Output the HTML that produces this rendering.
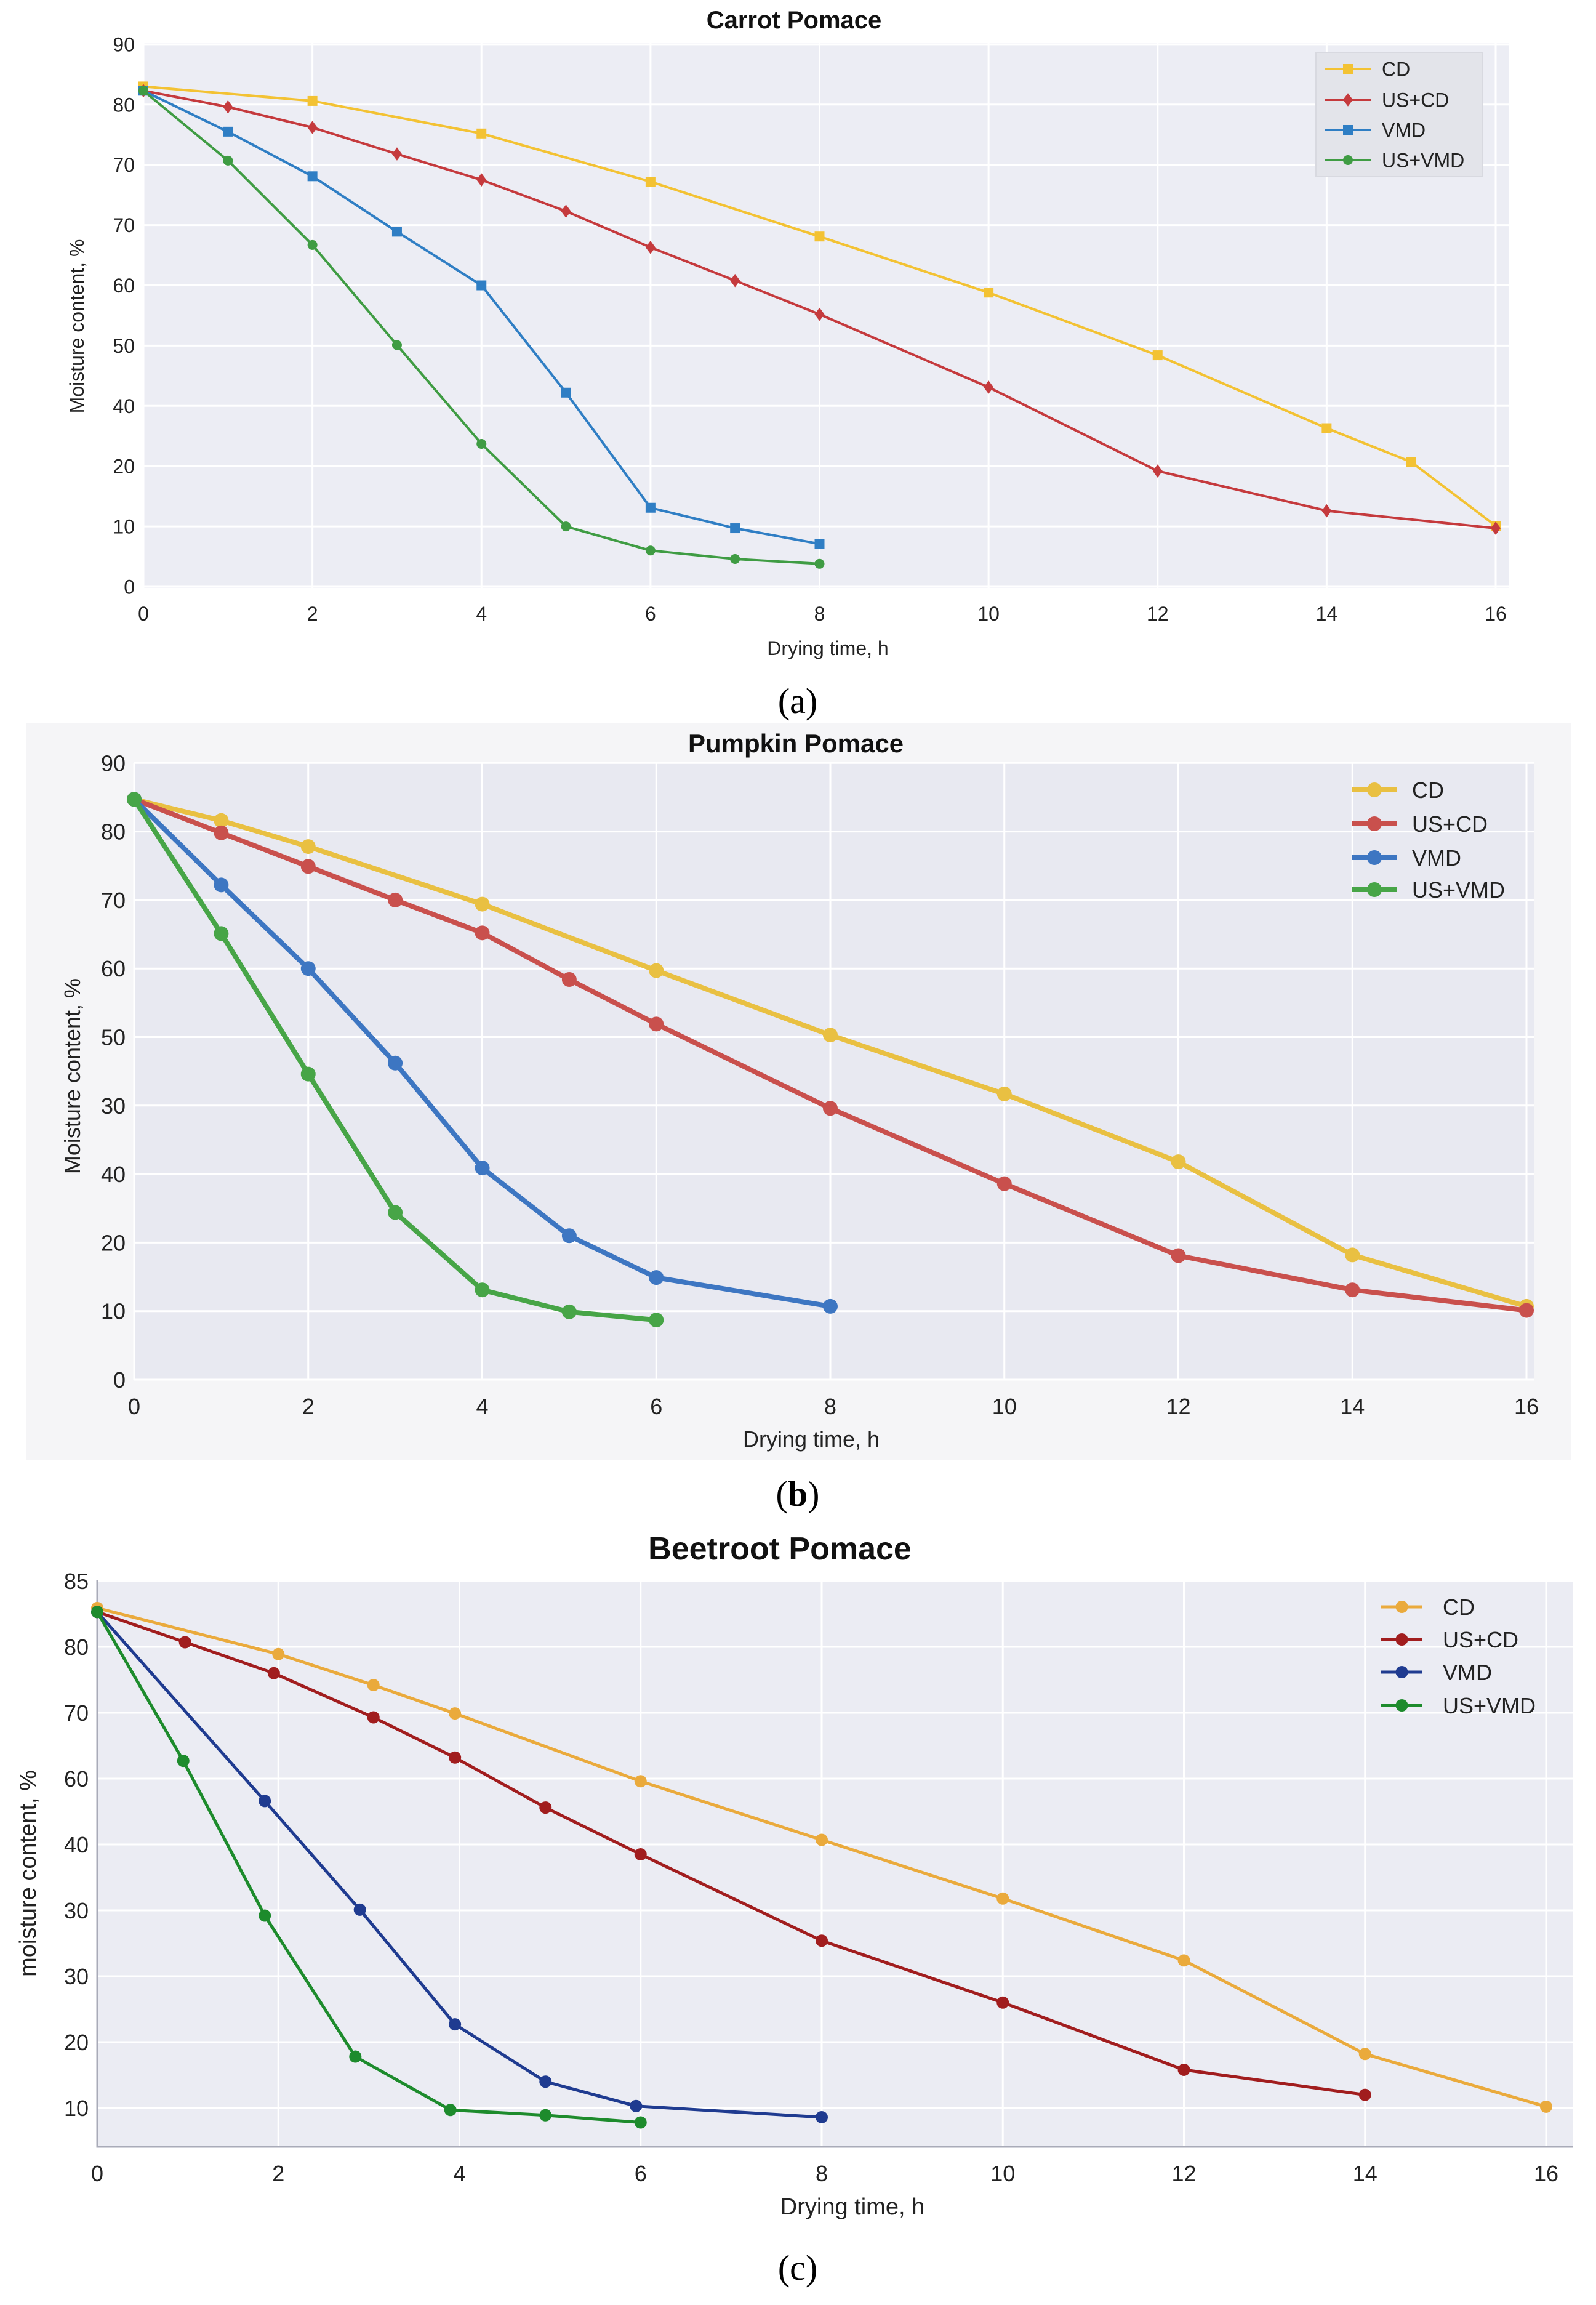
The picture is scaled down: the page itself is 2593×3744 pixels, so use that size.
<!DOCTYPE html>
<html><head><meta charset="utf-8">
<style>
html,body{margin:0;padding:0;background:#fff;}
svg{display:block;}
text{font-family:"Liberation Sans","DejaVu Sans",sans-serif;}
</style></head>
<body>
<svg id="fig" width="2593" height="3744" viewBox="0 0 2593 3744" xmlns="http://www.w3.org/2000/svg">
  <rect x="0" y="0" width="2593" height="3744" fill="#ffffff"/>
  <rect x="42" y="1175" width="2510" height="1196" fill="#f5f5f7"/>
  <g id="pa"></g>
  <g id="pb"></g>
  <g id="pc"></g>
  <text x="1296" y="1158" text-anchor="middle" style="font-family:'Liberation Serif',serif" font-size="58">(a)</text>
  <text x="1296" y="2446" text-anchor="middle" style="font-family:'Liberation Serif',serif" font-size="58">(<tspan font-weight="bold">b</tspan>)</text>
  <text x="1296" y="3703" text-anchor="middle" style="font-family:'Liberation Serif',serif" font-size="58">(c)</text>
</svg>
<script>
// ---------- Panel A: Carrot ----------
const aCD_x = [0,2,4,6,8,10,12,14,15,16];
const aCD_y = [83.0,80.6,75.2,67.2,58.1,48.8,38.4,26.3,20.7,10.1];
const aUSCD_x = [0,1,2,3,4,5,6,7,8,10,12,14,16];
const aUSCD_y = [82.3,79.6,76.2,71.8,67.5,62.3,56.3,50.8,45.2,33.1,19.2,12.6,9.7];
const aVMD_x = [0,1,2,3,4,5,6,7,8];
const aVMD_y = [82.3,75.5,68.1,58.9,50.0,32.2,13.1,9.7,7.1];
const aUSVMD_x = [0,1,2,3,4,5,6,7,8];
const aUSVMD_y = [82.3,70.7,56.7,40.1,23.7,10.0,6.0,4.6,3.8];
const aYTickVals = [0,10,20,30,40,50,60,70,80,90];
const aYTickLabels = ["0","10","20","40","50","60","70","70","80","90"];
const aXTicks = [0,2,4,6,8,10,12,14,16];

// ---------- Panel B: Pumpkin ----------
const bCD_x = [0,1,2,4,6,8,10,12,14,16];
const bCD_y = [84.7,81.6,77.8,69.4,59.7,50.3,41.7,31.8,18.2,10.7];
const bUSCD_x = [0,1,2,3,4,5,6,8,10,12,14,16];
const bUSCD_y = [84.7,79.8,74.9,70.0,65.2,58.4,51.9,39.6,28.6,18.1,13.1,10.1];
const bVMD_x = [0,1,2,3,4,5,6,8];
const bVMD_y = [84.7,72.2,60.0,46.2,30.9,21.0,14.9,10.7];
const bUSVMD_x = [0,1,2,3,4,5,6];
const bUSVMD_y = [84.7,65.1,44.6,24.4,13.1,9.9,8.7];
const bYTickVals = [0,10,20,30,40,50,60,70,80,90];
const bYTickLabels = ["0","10","20","40","30","50","60","70","80","90"];
const bXTicks = [0,2,4,6,8,10,12,14,16];

// ---------- Panel C: Beetroot ----------
const cCD_x = [0,2,3.05,3.95,6,8,10,12,14,16];
const cCD_y = [85.9,78.9,74.2,69.9,59.6,50.7,41.8,32.4,18.2,10.2];
const cUSCD_x = [0,0.97,1.95,3.05,3.95,4.95,6,8,10,12,14];
const cUSCD_y = [85.3,80.7,76.0,69.3,63.2,55.6,48.5,35.4,26.0,15.8,12.0];
const cVMD_x = [0,1.85,2.9,3.95,4.95,5.95,8];
const cVMD_y = [85.3,56.6,40.1,22.7,14.0,10.3,8.6];
const cUSVMD_x = [0,0.95,1.85,2.85,3.9,4.95,6];
const cUSVMD_y = [85.3,62.7,39.2,17.8,9.7,8.9,7.8];
const cYTickVals = [10,20,30,40,50,60,70,80,90];
const cYTickLabels = ["10","20","30","30","40","60","70","80","85"];
const cXTicks = [0,2,4,6,8,10,12,14,16];

const NS = "http://www.w3.org/2000/svg";
function mk(parent, tag, attrs){
  const e = document.createElementNS(NS, tag);
  for (const k in attrs) e.setAttribute(k, attrs[k]);
  parent.appendChild(e);
  return e;
}

function marker(g, shape, cx, cy, s, color){
  let m;
  if (shape === "square") {
    m = mk(g, "rect", {x:cx-s, y:cy-s, width:2*s, height:2*s, fill:color});
  } else if (shape === "diamond") {
    m = mk(g, "polygon", {points:`${cx},${cy-s*1.35} ${cx+s},${cy} ${cx},${cy+s*1.35} ${cx-s},${cy}`, fill:color});
  } else {
    m = mk(g, "circle", {cx:cx, cy:cy, r:s, fill:color});
  }
  return m;
}

function drawPanel(cfg){
  const g = document.getElementById(cfg.id);
  const X = t => cfg.x0 + (cfg.x1 - cfg.x0) * t / 16;
  const Y = v => cfg.yBase - (v - cfg.vBase) * cfg.yPer;
  const bg = mk(g, "rect", {x:cfg.px0, y:cfg.py0, width:cfg.px1-cfg.px0, height:cfg.py1-cfg.py0, fill:cfg.bg});
  
  
  cfg.yTicks.forEach((v,i)=>{
    const yy = Y(v);
    const gl = mk(g, "line", {x1:cfg.px0, x2:cfg.px1, y1:yy, y2:yy, stroke:"#ffffff", "stroke-width":3});
    
    
    const tl = mk(g, "text", {x:cfg.px0-14, y:yy+cfg.tickFs*0.36, "text-anchor":"end", "font-size":cfg.tickFs, fill:"#222"});
    tl.textContent = cfg.yLabels[i];
    
    
  });
  cfg.xTicks.forEach(t=>{
    const xx = X(t);
    const gl = mk(g, "line", {x1:xx, x2:xx, y1:cfg.py0, y2:cfg.py1, stroke:"#ffffff", "stroke-width":3});
    
    
    const tl = mk(g, "text", {x:xx, y:cfg.xTickY, "text-anchor":"middle", "font-size":cfg.tickFs, fill:"#222"});
    tl.textContent = String(t);
    
    
  });
  if (cfg.axisLine) {
    const ax = mk(g, "path", {d:`M${cfg.px0},${cfg.py0} V${cfg.py1} H${cfg.px1}`, fill:"none", stroke:"#a9abb8", "stroke-width":3});
    
    
  }
  cfg.series.forEach(s=>{
    const sg = mk(g, "g", {});
    
    
    const pts = s.xs.map((t,i)=>`${X(t).toFixed(1)},${Y(s.ys[i]).toFixed(1)}`).join(" ");
    const pl = mk(sg, "polyline", {points:pts, fill:"none", stroke:s.color, "stroke-width":cfg.lw, "stroke-linejoin":"round", "stroke-linecap":"round"});
    
    
    s.xs.forEach((t,i)=>{
      const m = marker(sg, s.shape, X(t), Y(s.ys[i]), cfg.ms, s.color);
      
      
    });
  });
  if (cfg.legendBox) {
    const lb = mk(g, "rect", {x:cfg.legendBox[0], y:cfg.legendBox[1], width:cfg.legendBox[2], height:cfg.legendBox[3], fill:"#e3e4ea", stroke:"#d8d9e0", "stroke-width":2});
    
    
  }
  cfg.series.forEach((s,i)=>{
    const ly = cfg.legY[i];
    const le = mk(g, "g", {});
    
    
    mk(le, "line", {x1:cfg.legX0, x2:cfg.legX1, y1:ly, y2:ly, stroke:s.color, "stroke-width":cfg.lw});
    marker(le, s.shape, (cfg.legX0+cfg.legX1)/2, ly, cfg.ms, s.color);
    const lt = mk(le, "text", {x:cfg.legTx, y:ly+cfg.legFs*0.36, "font-size":cfg.legFs, fill:"#222"});
    lt.textContent = s.label;
  });
  const tt = mk(g, "text", {x:cfg.titleX, y:cfg.titleY, "text-anchor":"middle", "font-size":cfg.titleFs, "font-weight":"bold", fill:"#111"});
  tt.textContent = cfg.title;
  
  
  const xt = mk(g, "text", {x:cfg.xTitleX, y:cfg.xTitleY, "text-anchor":"middle", "font-size":cfg.axFs, fill:"#222"});
  xt.textContent = "Drying time, h";
  
  
  const yt = mk(g, "text", {x:0, y:0, "text-anchor":"middle", "font-size":cfg.axFs, fill:"#222", transform:`translate(${cfg.yTitleX},${cfg.yTitleY}) rotate(-90)`});
  yt.textContent = cfg.yTitle;
  
  
}

drawPanel({
  id:"pa", title:"Carrot Pomace", titleX:1290, titleY:46, titleFs:40,
  x0:233, x1:2430, yBase:953, vBase:0, yPer:9.79,
  px0:233, px1:2452, py0:70, py1:955, bg:"#ecedf4", axisLine:false,
  yTicks:aYTickVals, yLabels:aYTickLabels, xTicks:aXTicks, xTickY:1008, tickFs:32,
  xTitleX:1345, xTitleY:1064, yTitleX:136, yTitleY:530, axFs:32, yTitle:"Moisture content, %",
  lw:4, ms:8,
  legendBox:[2138,85,270,202], legX0:2152, legX1:2228, legTx:2245, legY:[112,162,211,260], legFs:32,
  series:[
    {key:"cd", label:"CD", xs:aCD_x, ys:aCD_y, color:"#f3c233", shape:"square"},
    {key:"us-cd", label:"US+CD", xs:aUSCD_x, ys:aUSCD_y, color:"#c53a3d", shape:"diamond"},
    {key:"vmd", label:"VMD", xs:aVMD_x, ys:aVMD_y, color:"#2f7ec4", shape:"square"},
    {key:"us-vmd", label:"US+VMD", xs:aUSVMD_x, ys:aUSVMD_y, color:"#3f9c43", shape:"circle"}
  ]
});

drawPanel({
  id:"pb", title:"Pumpkin Pomace", titleX:1293, titleY:1222, titleFs:42,
  x0:218, x1:2480, yBase:2241, vBase:0, yPer:11.13,
  px0:218, px1:2493, py0:1239, py1:2241, bg:"#e8e9f1", axisLine:false,
  yTicks:bYTickVals, yLabels:bYTickLabels, xTicks:bXTicks, xTickY:2297, tickFs:36,
  xTitleX:1318, xTitleY:2350, yTitleX:130, yTitleY:1748, axFs:36, yTitle:"Moisture content, %",
  lw:8, ms:12,
  legendBox:null, legX0:2196, legX1:2270, legTx:2294, legY:[1283,1338,1393,1445], legFs:36,
  series:[
    {key:"cd", label:"CD", xs:bCD_x, ys:bCD_y, color:"#e9c042", shape:"circle"},
    {key:"us-cd", label:"US+CD", xs:bUSCD_x, ys:bUSCD_y, color:"#c9504d", shape:"circle"},
    {key:"vmd", label:"VMD", xs:bVMD_x, ys:bVMD_y, color:"#3d76c2", shape:"circle"},
    {key:"us-vmd", label:"US+VMD", xs:bUSVMD_x, ys:bUSVMD_y, color:"#47a547", shape:"circle"}
  ]
});

drawPanel({
  id:"pc", title:"Beetroot Pomace", titleX:1267, titleY:2533, titleFs:52,
  x0:158, x1:2512, yBase:3424, vBase:10, yPer:10.7,
  px0:158, px1:2555, py0:2566, py1:3487, bg:"#ebecf3", axisLine:true,
  yTicks:cYTickVals, yLabels:cYTickLabels, xTicks:cXTicks, xTickY:3543, tickFs:36,
  xTitleX:1385, xTitleY:3597, yTitleX:58, yTitleY:3043, axFs:38, yTitle:"moisture content, %",
  lw:5, ms:10,
  legendBox:null, legX0:2244, legX1:2311, legTx:2344, legY:[2610,2663,2716,2770], legFs:36,
  series:[
    {key:"cd", label:"CD", xs:cCD_x, ys:cCD_y, color:"#eaaa3c", shape:"circle"},
    {key:"us-cd", label:"US+CD", xs:cUSCD_x, ys:cUSCD_y, color:"#a11d1e", shape:"circle"},
    {key:"vmd", label:"VMD", xs:cVMD_x, ys:cVMD_y, color:"#1f3b90", shape:"circle"},
    {key:"us-vmd", label:"US+VMD", xs:cUSVMD_x, ys:cUSVMD_y, color:"#1d8b2c", shape:"circle"}
  ]
});
</script>
</body></html>
